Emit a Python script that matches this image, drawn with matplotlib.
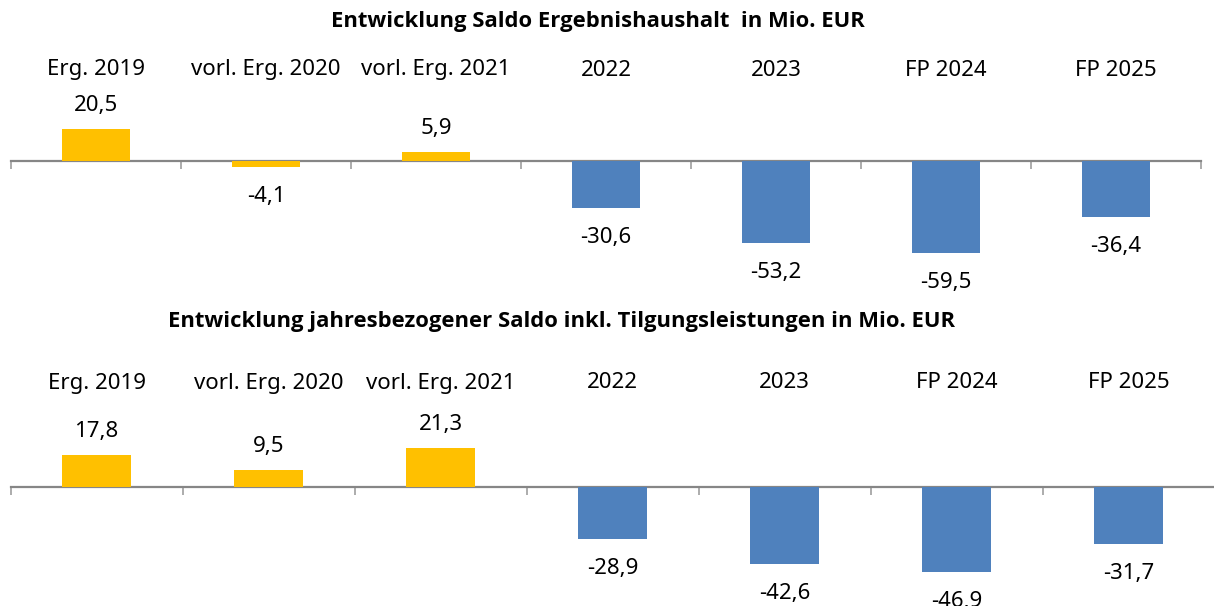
import matplotlib
matplotlib.use("Agg")
import matplotlib.pyplot as plt
import matplotlib.transforms as mtransforms

plt.rcParams["font.family"] = ["Noto Sans", "DejaVu Sans"]

# ── Data ─────────────────────────────────────────────────────────────────────
categories = ["Erg. 2019", "vorl. Erg. 2020", "vorl. Erg. 2021",
              "2022", "2023", "FP 2024", "FP 2025"]
saldo_ergebnis = [20.5, -4.1, 5.9, -30.6, -53.2, -59.5, -36.4]
saldo_tilgung = [17.8, 9.5, 21.3, -28.9, -42.6, -46.9, -31.7]
is_actual = [True, True, True, False, False, False, False]

title_top = "Entwicklung Saldo Ergebnishaushalt  in Mio. EUR"
title_bottom = "Entwicklung jahresbezogener Saldo inkl. Tilgungsleistungen in Mio. EUR"

GOLD = "#FFC000"
BLUE = "#4F81BD"
AXIS = "#868686"

W, H = 1214, 606
fig = plt.figure(figsize=(W / 100, H / 100), dpi=100)
fig.patch.set_facecolor("white")


def fy(px):
    """pixel row (from top) -> figure fraction"""
    return 1 - px / H


def panel(values, left_px, right_px, top_px, bottom_px, zero_px, scale,
          label_px, title, title_x, title_px):
    ax = fig.add_axes([left_px / W, fy(bottom_px),
                       (right_px - left_px) / W, (bottom_px - top_px) / H])
    ax.set_xlim(0, len(values))
    ax.set_ylim(-(bottom_px - zero_px) / scale, (zero_px - top_px) / scale)
    for s in ["top", "left", "right"]:
        ax.spines[s].set_visible(False)
    ax.spines["bottom"].set_position(("data", 0))
    ax.spines["bottom"].set_color(AXIS)
    ax.spines["bottom"].set_linewidth(1.6)
    ax.set_xticks(range(len(values) + 1))
    ax.tick_params(axis="x", length=6, width=1.3, color="#A6A6A6",
                   direction="out", labelbottom=False)
    ax.set_yticks([])
    ax.set_facecolor("none")

    xs = [i + 0.5 for i in range(len(values))]
    colors = [GOLD if a else BLUE for a in is_actual]
    ax.bar(xs, values, width=0.405, color=colors, zorder=3)

    trans = mtransforms.blended_transform_factory(ax.transData, fig.transFigure)
    for x, cat in zip(xs, categories):
        ax.text(x, fy(label_px), cat, transform=trans, ha="center",
                va="center", fontsize=16, color="#000000")

    for x, v in zip(xs, values):
        lab = f"{v:.1f}".replace(".", ",")
        if v >= 0:
            ax.annotate(lab, (x, v), xytext=(0, 13), textcoords="offset pixels",
                        ha="center", va="bottom", fontsize=16)
        else:
            ax.annotate(lab, (x, v), xytext=(0, -19), textcoords="offset pixels",
                        ha="center", va="top", fontsize=16)

    fig.text(title_x / W, fy(title_px), title, ha="center", va="center",
             fontsize=15.8, fontweight="bold", family=["Open Sans", "DejaVu Sans"])
    return ax


panel(saldo_ergebnis, 11, 1201, 40, 300, 161, 1.54, 70,
      title_top, 598, 22)
panel(saldo_tilgung, 10.5, 1214.5, 350, 606, 487, 1.81, 383,
      title_bottom, 561, 322)

fig.savefig("out.png", dpi=100, facecolor="white")
